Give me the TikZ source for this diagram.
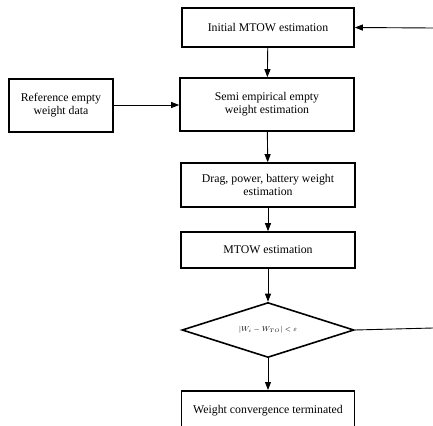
\documentclass[tikz,border=0pt]{standalone}
\usepackage{fontspec}
\setmainfont{Liberation Serif}
\usetikzlibrary{shapes.geometric,arrows.meta}
\begin{document}
\begin{tikzpicture}[x=1pt,y=1pt,
  box/.style={draw,line width=1.6pt,align=center,inner sep=0pt,font=\fontsize{11.8}{13}\selectfont},
  arr/.style={line width=0.9pt,-{Triangle[length=8pt,width=6pt]}},
  ln/.style={line width=0.9pt}]
\useasboundingbox (0,0) rectangle (433,-425);
\clip (0,0) rectangle (433,-425);
\node[box,minimum width=172pt,minimum height=39pt] (b1) at (268,-27.5) {Initial MTOW estimation};
\node[box,minimum width=174pt,minimum height=53pt] (b2) at (267,-104.5) {Semi empirical empty\\weight estimation};
\node[box,minimum width=104pt,minimum height=53pt] (ref) at (61,-105.5) {Reference empty\\weight data};
\node[box,minimum width=174pt,minimum height=44pt] (b3) at (268,-185) {Drag, power, battery weight\\estimation};
\node[box,minimum width=174pt,minimum height=36pt] (b4) at (268,-250) {MTOW estimation};
\node[diamond,draw,line width=1.6pt,minimum width=172pt,minimum height=55pt,inner sep=0pt,aspect=3.1,font=\fontsize{7.5}{9}\selectfont] (d) at (268,-330) {$|W_i - W_{TO}| < \varepsilon$};
\node[box,minimum width=173pt,minimum height=50pt,anchor=north] (b5) at (268,-390) {\raisebox{12pt}{Weight convergence terminated}};
\coordinate (r1) at (433,-28);
\coordinate (r2) at (433,-328);
\draw[arr] (r1) -- (b1.east);
\draw[arr] (b1) -- (b2);
\draw[arr] (ref.east |- 0,-105) -- (b2.west |- 0,-105);
\draw[arr] (b2) -- (b3);
\draw[arr] (b3) -- (b4);
\draw[arr] (b4) -- (d);
\draw[ln] (d.east) -- (r2);
\draw[arr] (d) -- (b5);
\end{tikzpicture}
\end{document}
